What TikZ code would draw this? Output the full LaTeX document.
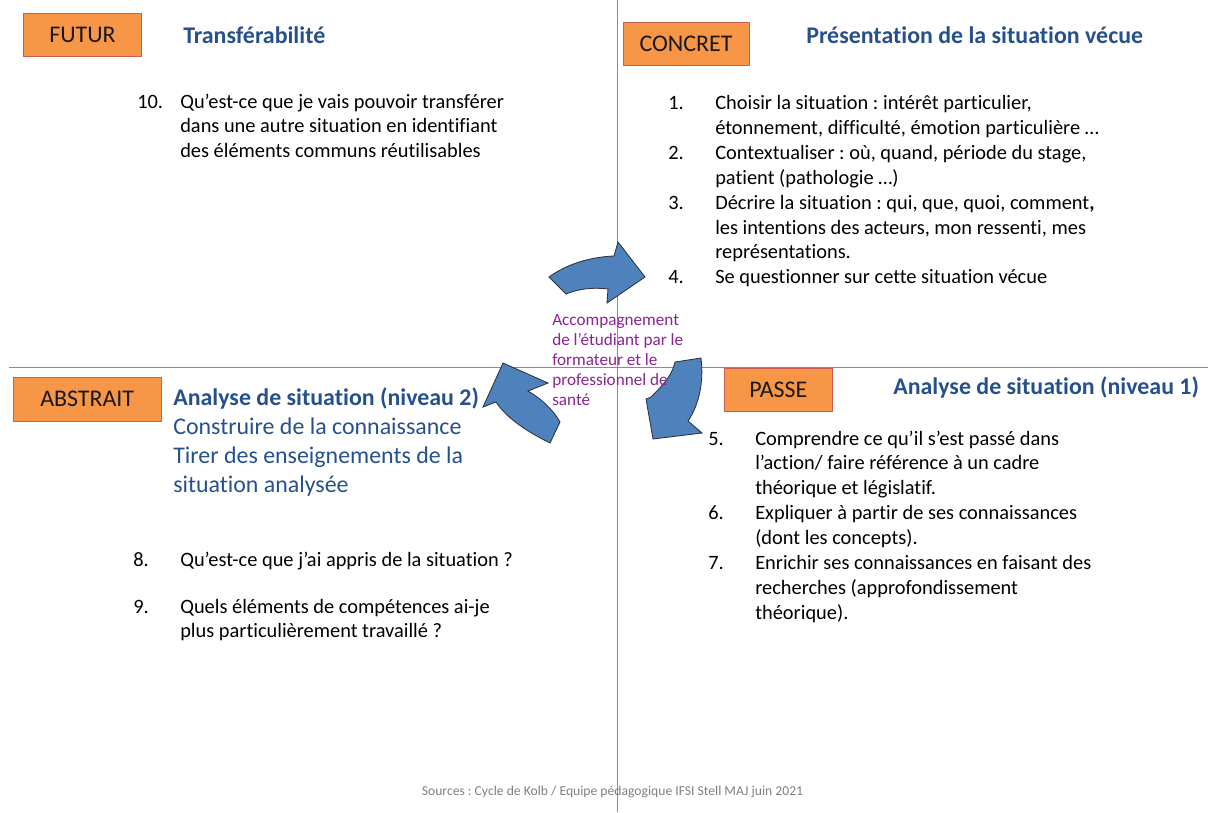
\documentclass[tikz,border=0pt]{standalone}
\usepackage{fontspec}
\setmainfont{Carlito}[Ligatures=NoCommon]
\frenchspacing
\definecolor{axeblue}{RGB}{100,145,208}
\definecolor{boxorange}{RGB}{247,150,70}
\definecolor{boxred}{RGB}{205,92,82}
\definecolor{titleblue}{RGB}{38,80,140}
\definecolor{arrowblue}{RGB}{79,129,189}
\definecolor{arrowedge}{RGB}{45,50,60}
\definecolor{violet}{RGB}{140,35,150}
\definecolor{sourcegray}{RGB}{128,128,128}
\begin{document}
\begin{tikzpicture}[x=0.025cm, y=-0.025cm,
    axe/.style={draw=axeblue, line width=0.9pt},
    etiquette/.style={draw=boxred, fill=boxorange, line width=0.7pt, inner sep=0pt,
        text=black!90, font=\fontsize{17}{20.6}\selectfont},
    titre/.style={anchor=base west, inner sep=0pt, text=titleblue, align=left,
        font=\fontsize{17}{20.6}\selectfont},
    num/.style={anchor=base west, inner sep=0pt, font=\fontsize{14.5}{17.7}\selectfont},
    texte/.style={anchor=base west, inner sep=0pt, align=left,
        font=\fontsize{14.5}{17.7}\selectfont},
    fleche/.style={fill=arrowblue, draw=arrowedge, line width=0.6pt, line join=miter}]
    \useasboundingbox (0,0) rectangle (1208,812);
    % axes
    \draw[axe] (617.2,0)--(617.2,812);
    \draw[axe] (9,367.5)--(1208,367.5);
    % fleches du cycle
    \filldraw[fleche] (549,277) .. controls (567,264) and (590,257) .. (614,256) -- (618,242)
        -- (645,277) -- (607,303) -- (608,289) .. controls (592,287) and (578,289) .. (566,294) -- cycle;
    \filldraw[fleche] (675,362) -- (701,358) .. controls (704,382) and (699,405) .. (688,421)
        -- (702,433) -- (653,439) -- (646,399) -- (651,397) .. controls (662,386) and (672,376) .. cycle;
    \filldraw[fleche] (503,363) -- (548,383) -- (528,391) .. controls (540,398) and (552,408) .. (560,422)
        -- (550,443) .. controls (530,433) and (508,420) .. (496,402) -- (483,407) -- cycle;
    % etiquettes
    \node[etiquette, minimum width=2.96cm, minimum height=1.085cm] (futur) at (82.5,35) {FUTUR};
    \node[etiquette, minimum width=3.15cm, minimum height=1.08cm] (concret) at (686,44.3) {CONCRET};
    \node[etiquette, minimum width=3.69cm, minimum height=1.09cm] (abstrait) at (87.2,399.2) {ABSTRAIT};
    \node[etiquette, minimum width=2.7cm, minimum height=1.085cm] (passe) at (778.3,390) {PASSE};
    % titres (base = derniere ligne)
    \node[titre] (transfert) at (183,43) {\bfseries Transférabilité};
    \node[titre] (presentation) at (806,43) {\bfseries Présentation de la situation vécue};
    \node[titre] (niveau1) at (893,394) {\bfseries Analyse de situation (niveau 1)};
    \node[titre] (niveau2) at (173,492) {{\bfseries Analyse de situation (niveau 2)}\\Construire de la connaissance\\Tirer des enseignements de la\\situation analysée};
    % futur
    \node[num] (n10) at (137,108) {10.};
    \node[texte] (t10) at (180,157.8) {Qu’est-ce que je vais pouvoir transférer\\dans une autre situation en identifiant\\des éléments communs réutilisables};
    % concret
    \node[num] (n1) at (668,109.5) {1.};
    \node[texte] (t1) at (715,134.4) {Choisir la situation : intérêt particulier,\\étonnement, difficulté, émotion particulière …};
    \node[num] (n2) at (668,159.3) {2.};
    \node[texte] (t2) at (715,184.2) {Contextualiser : où, quand, période du stage,\\patient (pathologie …)};
    \node[num] (n3) at (668,209.1) {3.};
    \node[texte] (t3) at (715,258.9) {Décrire la situation : qui, que, quoi, comment\textbf{,}\\les intentions des acteurs, mon ressenti, mes\\représentations.};
    \node[num] (n4) at (668,283.8) {4.};
    \node[texte] (t4) at (715,283.8) {Se questionner sur cette situation vécue};
    % passe
    \node[num] (n5) at (708,445) {5.};
    \node[texte] (t5) at (755,494.8) {Comprendre ce qu’il s’est passé dans\\l’action/ faire référence à un cadre\\théorique et législatif.};
    \node[num] (n6) at (708,519.7) {6.};
    \node[texte] (t6) at (755,544.6) {Expliquer à partir de ses connaissances\\(dont les concepts).};
    \node[num] (n7) at (708,569.5) {7.};
    \node[texte] (t7) at (755,619.3) {Enrichir ses connaissances en faisant des\\recherches (approfondissement\\théorique).};
    % abstrait
    \node[num] (n8) at (133,566) {8.};
    \node[texte] (t8) at (180,566) {Qu’est-ce que j’ai appris de la situation ?};
    \node[num] (n9) at (133,613) {9.};
    \node[texte] (t9) at (180,637.9) {Quels éléments de compétences ai-je\\plus particulièrement travaillé ?};
    % accompagnement
    \node[anchor=base west, inner sep=0pt, align=left, text=violet,
        font=\fontsize{12.2}{14.2}\selectfont] (accomp) at (552,405)
        {Accompagnement\\de l’étudiant par le\\formateur et le\\professionnel de\\santé};
    % source
    \node[anchor=base, inner sep=0pt, text=sourcegray, font=\fontsize{9.7}{11}\selectfont] (source) at (612.5,795)
        {Sources : Cycle de Kolb / Equipe pédagogique IFSI Stell MAJ juin 2021};
\end{tikzpicture}
\end{document}
